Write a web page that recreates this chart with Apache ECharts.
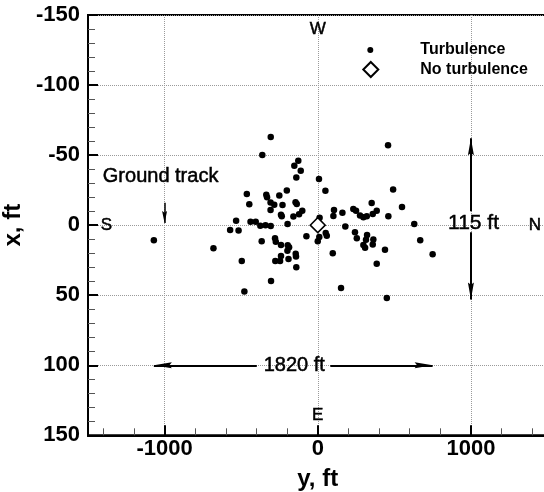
<!DOCTYPE html>
<html>
<head>
<meta charset="utf-8">
<script src="https://cdn.jsdelivr.net/npm/echarts@6/dist/echarts.min.js"></script>
<style>
  html, body { margin: 0; padding: 0; background: #fff; }
  #chart { width: 544px; height: 492px; }
</style>
</head>
<body>
<div id="chart"></div>
<script>
const FONT = '"Liberation Sans", Arial, Helvetica, sans-serif';

// Encounter positions: lateral offset y (ft) and vertical offset x (ft)
const turbulenceY = [
  -1070, -681, -496, -479, -533, -572, -517, -439, -405, -375,
  -341, -307, -366, -463, -447, -362, -307, -336, -331, -308,
  -284, -230, -308, -251, -202, -145, -137, -127, -153, -111,
  -140, -240, -235, -101, -122, -159, -197, 8, 50, 12,
  106, 161, 102, 232, 250, 276, 298, 320, 352, 385,
  359, 461, 459, 492, 550, 630, 669, 750, 180, -279,
  -274, -240, -196, -187, -198, -74, 10, 52, 59, 0,
  243, 255, 322, 315, 298, 309, 363, 359, 439, 98,
  385, 152, 451, -240, -277, -246, -191, -144, -142, -140,
  -305
];
const turbulenceX = [
  10.7, 16.5, 25.5, 47.4, -3.2, 3.4, 3.9, -2.5, -2.5, 0.4,
  0.1, 0.6, 11.5, -22.2, -15, -50, -63, -21.7, -20, -16.2,
  -14.6, -14.4, -10.8, -21.2, -24.8, -16.4, -15.1, -46, -42.4, -38.8,
  -34.1, -7.5, -6.3, -10.3, -7.8, -6.1, -0.9, -32.9, -24.6, -5.3,
  -10.8, -8.9, -6.6, -11.5, -10.3, -6.8, -5.6, -6.3, -15.8, -10.3,
  -8, -6.3, -57.1, -25.5, -13, -0.9, 10.7, 20.7, 0.9, 9.4,
  11.8, 14.1, 14.3, 15.8, 18.2, 8, 8.4, 5.6, 7.5, 11.5,
  5.1, 9.4, 7.1, 10.5, 14.1, 16.2, 10.3, 13.9, 17.5, 20.1,
  27.6, 44.9, 52, 22.1, 25.5, 25.5, 24.2, 20.5, 22.4, 30.1,
  39.9
];
const noTurbulenceY = [0];
const noTurbulenceX = [0];

// Axis ticks
const yMajorTicks = [-1000, 0, 1000];
const yMinorTicks = [-1400, -1200, -800, -600, -400, -200, 200, 400, 600, 800, 1200, 1400];
const xRange = [-150, 150];
const yRange = [-1500, 1500];

// Extent of the encounter cloud
const lateralSpread = [-1070, 750];   // 1820 ft
const verticalSpread = [-62, 53];     // 115 ft
const groundTrackY = -1000;

// Text annotations
const noteTexts = ['W', 'E', 'S', 'N', 'Ground track', '1820 ft', '115 ft'];
const noteY = [0, 0, -1380, 1418, -1026, -153, 1017];
const noteX = [-139.5, 135.5, 0, 0, -34.8, 100, -1.6];
const noteSizes = [17, 17, 17, 17, 20, 20, 21];

const ARROW_UP = 'path://M5,0 L10,30 L5,26 L0,30 Z';
const ARROW_DOWN = 'path://M0,0 L5,4 L10,0 L5,30 Z';
const ARROW_LEFT = 'path://M0,5 L30,0 L26,5 L30,10 Z';
const ARROW_RIGHT = 'path://M30,5 L0,10 L4,5 L0,0 Z';

const turbulenceData = turbulenceY.map((y, i) => [y, turbulenceX[i]]);
const noTurbulenceData = noTurbulenceY.map((y, i) => [y, noTurbulenceX[i]]);

// arrow shafts, broken where the dimension labels sit
const shafts = [
  [[lateralSpread[0], 100], [-398, 100]],
  [[82, 100], [lateralSpread[1], 100]],
  [[1000, verticalSpread[0]], [1000, -10]],
  [[1000, 5], [1000, verticalSpread[1]]]
].map(c => ({ coords: c }));

const heads = [
  { value: [lateralSpread[0], 100], symbol: ARROW_LEFT, symbolSize: [18, 6], symbolOffset: [9, 0] },
  { value: [lateralSpread[1], 100], symbol: ARROW_RIGHT, symbolSize: [18, 6], symbolOffset: [-9, 0] },
  { value: [1000, verticalSpread[0]], symbol: ARROW_UP, symbolSize: [6, 17], symbolOffset: [0, 8.5] },
  { value: [1000, verticalSpread[1]], symbol: ARROW_DOWN, symbolSize: [6, 17], symbolOffset: [0, -8.5] },
  { value: [groundTrackY, -1.5], symbol: ARROW_DOWN, symbolSize: [5, 12], symbolOffset: [0, -6] }
];

const notes = noteTexts.map((t, i) => ({
  name: t,
  value: [noteY[i], noteX[i]],
  label: { fontSize: noteSizes[i], color: '#000' }
}));

const plainNumber = v => String(v);

const chart = echarts.init(document.getElementById('chart'), null, { renderer: 'canvas' });

chart.setOption({
  animation: false,
  backgroundColor: '#fff',
  textStyle: { fontFamily: FONT, color: '#000' },
  grid: {
    left: 88, top: 15, right: -3.5, bottom: 56.7,
    containLabel: false, outerBoundsMode: 'none',
    show: true, borderColor: '#000', borderWidth: 2, backgroundColor: 'transparent'
  },
  legend: [
    {
      data: ['Turbulence'],
      left: 367.3, top: 42, padding: 0,
      itemWidth: 10, itemHeight: 6,
      textStyle: { fontFamily: FONT, fontSize: 16, fontWeight: 'bold', color: '#000', padding: [0, 0, 0, 40] }
    },
    {
      data: ['No turbulence'],
      left: 362.3, top: 61, padding: 0,
      itemWidth: 15, itemHeight: 15,
      textStyle: { fontFamily: FONT, fontSize: 16, fontWeight: 'bold', color: '#000', padding: [0, 0, 0, 37] }
    }
  ],
  xAxis: [
    {
      type: 'value', min: yRange[0], max: yRange[1], position: 'bottom',
      name: 'y, ft', nameLocation: 'middle', nameGap: 32,
      nameTextStyle: { fontFamily: FONT, fontSize: 24, fontWeight: 'bold', color: '#000' },
      axisLine: { show: true, onZero: false, lineStyle: { color: '#000', width: 2 } },
      axisTick: { show: true, inside: true, length: 10, customValues: yMajorTicks, lineStyle: { color: '#000', width: 2 } },
      axisLabel: { customValues: yMajorTicks, formatter: plainNumber, fontFamily: FONT, fontSize: 22, fontWeight: 'bold', color: '#000', margin: 3 },
      splitLine: { show: true, lineStyle: { type: 'dotted', color: '#9a9a9a', width: 1 } }
    },
    {
      type: 'value', min: yRange[0], max: yRange[1], position: 'bottom', offset: 0,
      axisLine: { show: true, onZero: false, lineStyle: { color: '#000', width: 2 } },
      axisTick: { show: true, inside: true, length: 7, customValues: yMinorTicks, lineStyle: { color: '#555', width: 1 } },
      axisLabel: { show: true, customValues: yMinorTicks, formatter: () => '' },
      splitLine: { show: false }
    }
  ],
  yAxis: {
    type: 'value', inverse: true, min: xRange[0], max: xRange[1], interval: 50,
    name: 'x, ft', nameLocation: 'middle', nameGap: 50,
    nameTextStyle: { fontFamily: FONT, fontSize: 24, fontWeight: 'bold', color: '#000' },
    axisLine: { show: true, onZero: false, lineStyle: { color: '#000', width: 2 } },
    axisTick: { show: true, inside: true, length: 10, lineStyle: { color: '#000', width: 2 } },
    minorTick: { show: true, splitNumber: 5, length: 7, lineStyle: { color: '#555', width: 1 } },
    axisLabel: { formatter: plainNumber, fontFamily: FONT, fontSize: 22, fontWeight: 'bold', color: '#000', margin: 8 },
    splitLine: { show: true, lineStyle: { type: 'dotted', color: '#9a9a9a', width: 1 } }
  },
  series: [
    {
      name: 'Turbulence', type: 'scatter', data: turbulenceData,
      symbol: 'circle', symbolSize: 6.5,
      itemStyle: { color: '#000', opacity: 1 }, z: 3
    },
    {
      name: 'No turbulence', type: 'scatter', data: noTurbulenceData,
      symbol: 'diamond', symbolSize: 15,
      itemStyle: { color: '#fff', borderColor: '#000', borderWidth: 1.5, opacity: 1 }, z: 4
    },
    {
      type: 'lines', coordinateSystem: 'cartesian2d', data: shafts,
      lineStyle: { color: '#000', width: 2, opacity: 1 }, symbol: 'none', z: 2
    },
    {
      type: 'lines', coordinateSystem: 'cartesian2d',
      data: [{ coords: [[groundTrackY, -16], [groundTrackY, -1.5]] }],
      lineStyle: { color: '#000', width: 1.5, opacity: 1 }, symbol: 'none', z: 2
    },
    {
      type: 'scatter', data: heads, itemStyle: { color: '#000', opacity: 1 }, z: 3,
      silent: true
    },
    {
      type: 'scatter', data: notes, symbolSize: 0, silent: true, z: 5,
      itemStyle: { opacity: 1 },
      label: {
        show: true, position: 'inside', formatter: '{b}',
        fontFamily: FONT, color: '#000', fontWeight: 'normal',
        textBorderColor: '#000', textBorderWidth: 0.5
      }
    },
    {
      // keeps the minor-tick axis populated
      type: 'scatter', xAxisIndex: 1, data: [], silent: true
    }
  ]
});
</script>
</body>
</html>
